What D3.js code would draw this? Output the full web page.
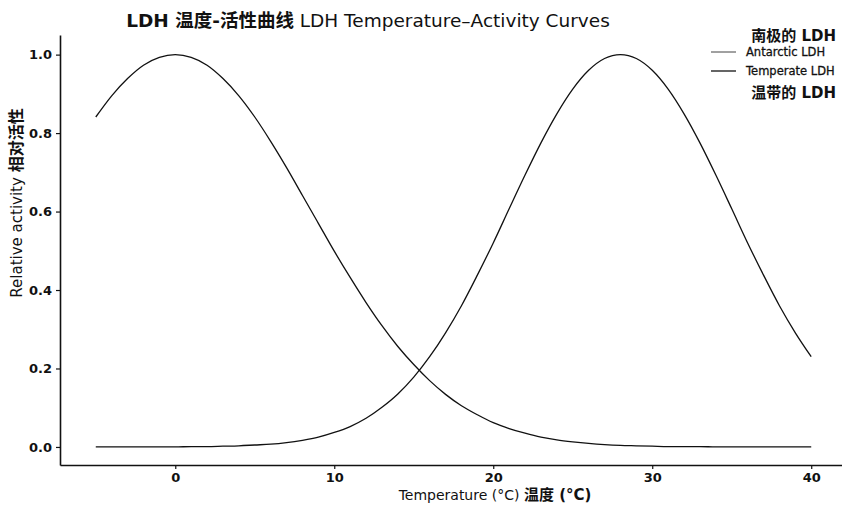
<!DOCTYPE html>
<html>
<head>
<meta charset="utf-8">
<script src="https://cdn.jsdelivr.net/npm/d3@7"></script>
<style>
  html, body { margin: 0; padding: 0; background: #fff; }
  svg { display: block; }
  text { fill: #111; }
</style>
</head>
<body>
<svg id="chart" width="842" height="505"></svg>
<script>
// Temperatures sampled every 1 °C
const temperatures = d3.range(-5, 41);

// Relative activity of Antarctic LDH (cold-adapted, optimum near 0 °C)
const antarcticActivity = [
  0.841, 0.895, 0.939, 0.973, 0.993, 1.000, 0.993, 0.973, 0.939, 0.895,
  0.841, 0.779, 0.712, 0.641, 0.570, 0.499, 0.432, 0.368, 0.309, 0.256,
  0.210, 0.169, 0.134, 0.105, 0.082, 0.062, 0.047, 0.035, 0.025, 0.018,
  0.013, 0.009, 0.006, 0.004, 0.003, 0.002, 0.001, 0.001, 0.001, 0.000,
  0.000, 0.000, 0.000, 0.000, 0.000, 0.000
];

// Relative activity of temperate LDH (optimum near 28 °C)
const temperateActivity = [
  0.000, 0.000, 0.000, 0.000, 0.000, 0.000, 0.001, 0.001, 0.002, 0.003,
  0.005, 0.007, 0.011, 0.017, 0.025, 0.037, 0.052, 0.073, 0.101, 0.135,
  0.178, 0.230, 0.291, 0.360, 0.438, 0.520, 0.607, 0.693, 0.775, 0.849,
  0.912, 0.960, 0.990, 1.000, 0.990, 0.960, 0.912, 0.849, 0.775, 0.693,
  0.607, 0.520, 0.438, 0.360, 0.291, 0.230
];

const xTicks = [0, 10, 20, 30, 40];
const yTicks = [0.0, 0.2, 0.4, 0.6, 0.8, 1.0];

const seriesNames = ["Antarctic LDH", "Temperate LDH"];

const svg = d3.select("#chart");
const latin = "'DejaVu Sans', 'Noto Sans CJK SC', sans-serif";

const x = d3.scaleLinear().domain([-7.25, 42.25]).range([60, 847]);
const y = d3.scaleLinear().domain([-0.046, 1.05]).range([465, 35]);

// Axes
const xAxis = svg.append("g")
  .attr("transform", `translate(0,${y.range()[0]})`)
  .call(d3.axisBottom(x).tickValues(xTicks).tickSize(4).tickPadding(4).tickFormat(d3.format("d")).tickSizeOuter(0));
const yAxis = svg.append("g")
  .attr("transform", `translate(${x.range()[0]},0)`)
  .call(d3.axisLeft(y).tickValues(yTicks).tickSize(4).tickPadding(4).tickFormat(d3.format(".1f")).tickSizeOuter(0));

[xAxis, yAxis].forEach(g => {
  g.select(".domain").attr("stroke", "#111").attr("stroke-width", 1.6);
  g.selectAll(".tick line").attr("stroke", "#111").attr("stroke-width", 1.2);
  g.selectAll(".tick text")
    .attr("fill", "#111")
    .style("font-family", latin)
    .style("font-size", "13px")
    .style("font-weight", "bold");
});

// Curves
const line = d3.line()
  .x((d, i) => x(temperatures[i]))
  .y(d => y(d))
  .curve(d3.curveMonotoneX);

[antarcticActivity, temperateActivity].forEach(vals => {
  svg.append("path")
    .datum(vals)
    .attr("fill", "none")
    .attr("stroke", "#111")
    .attr("stroke-width", 1.3)
    .attr("d", line);
});

// Title
const title = svg.append("text")
  .attr("x", 368).attr("y", 27)
  .attr("text-anchor", "middle")
  .style("font-family", latin)
  .style("font-size", "18.5px");
title.append("tspan").style("font-weight", "bold").text("LDH 温度-活性曲线");
title.append("tspan").text("  LDH Temperature–Activity Curves");

// Axis labels
const xl = svg.append("text")
  .attr("x", 495).attr("y", 500)
  .attr("text-anchor", "middle")
  .style("font-family", latin)
  .style("font-size", "14px");
xl.append("tspan").text("Temperature (°C) ");
xl.append("tspan").style("font-weight", "bold").style("font-size", "15px").text("温度 (°C)");

const yl = svg.append("text")
  .attr("transform", "translate(22,203) rotate(-90)")
  .attr("text-anchor", "middle")
  .style("font-family", latin)
  .style("font-size", "15px");
yl.append("tspan").text("Relative activity ");
yl.append("tspan").style("font-weight", "bold").style("font-size", "16px").text("相对活性");

// Legend
svg.append("text")
  .attr("x", 836).attr("y", 41)
  .attr("text-anchor", "end")
  .style("font-family", latin)
  .style("font-size", "15px")
  .style("font-weight", "bold")
  .text("南极的 LDH");

const legend = svg.append("g").selectAll("g")
  .data(seriesNames)
  .join("g")
  .attr("transform", (d, i) => `translate(711,${52 + i * 19})`);
legend.append("line")
  .attr("x1", 0).attr("x2", 25)
  .attr("stroke", "#111")
  .attr("stroke-width", (d, i) => i === 0 ? 0.8 : 1.3);
legend.append("text")
  .attr("x", 35).attr("dy", "0.35em")
  .style("font-family", latin)
  .style("font-size", "11.5px")
  .attr("stroke", "#111")
  .attr("stroke-width", 0.3)
  .text(d => d);

svg.append("text")
  .attr("x", 836).attr("y", 98)
  .attr("text-anchor", "end")
  .style("font-family", latin)
  .style("font-size", "15px")
  .style("font-weight", "bold")
  .text("温带的 LDH");
</script>
</body>
</html>
